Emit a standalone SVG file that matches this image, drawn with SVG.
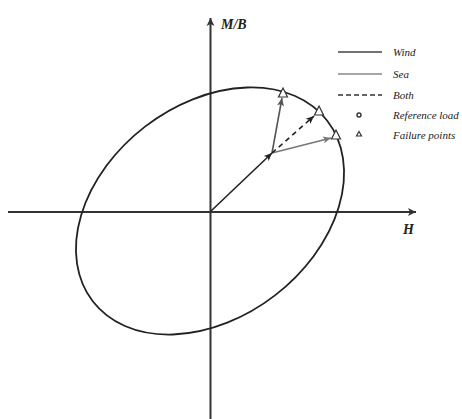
<svg xmlns="http://www.w3.org/2000/svg" width="462" height="419" viewBox="0 0 462 419">
<style>
.lbl{font-family:"Liberation Serif","Times New Roman",serif;font-style:italic;font-size:11px;fill:#222}
.ax{font-family:"Liberation Serif","Times New Roman",serif;font-style:italic;font-weight:bold;font-size:14px;fill:#222}
.axis{stroke:#333;stroke-width:2;fill:none}
.tri{fill:#fff;stroke:#333;stroke-width:1.2}
</style>
<defs>
<marker id="ahAx" markerWidth="10" markerHeight="10" refX="9" refY="5" orient="auto" markerUnits="userSpaceOnUse">
<path d="M1,1 L9,5 L1,9 L3,5 Z" fill="#333"/>
</marker>
<marker id="ahK" markerWidth="10" markerHeight="10" refX="9" refY="5" orient="auto" markerUnits="userSpaceOnUse">
<path d="M1,1.5 L9,5 L1,8.5 L3,5 Z" fill="#222"/>
</marker>
<marker id="ahW" markerWidth="10" markerHeight="10" refX="9" refY="5" orient="auto" markerUnits="userSpaceOnUse">
<path d="M1,1.5 L9,5 L1,8.5 L3,5 Z" fill="#555"/>
</marker>
<marker id="ahS" markerWidth="10" markerHeight="10" refX="9" refY="5" orient="auto" markerUnits="userSpaceOnUse">
<path d="M1,1.5 L9,5 L1,8.5 L3,5 Z" fill="#777"/>
</marker>
</defs>
<g id="axes">
<line class="axis" x1="210.5" y1="419" x2="210.5" y2="18" marker-end="url(#ahAx)"/>
<line class="axis" x1="8" y1="212" x2="416" y2="212" marker-end="url(#ahAx)"/>
<text class="ax" x="221" y="29">M/B</text>
<text class="ax" x="403" y="234">H</text>
</g>
<g id="ellipse">
<ellipse cx="210" cy="211" rx="148" ry="106.5" transform="rotate(-37.6 210 211)" fill="none" stroke="#222" stroke-width="1.8"/>
</g>
<g id="connectors">
<line x1="211" y1="211" x2="272" y2="153" stroke="#222" stroke-width="1.6" marker-end="url(#ahK)"/>
<line x1="272" y1="153" x2="282" y2="98" stroke="#555" stroke-width="1.6" marker-end="url(#ahW)"/>
<line x1="272" y1="153" x2="331" y2="138" stroke="#777" stroke-width="1.6" marker-end="url(#ahS)"/>
<line x1="272" y1="153" x2="314" y2="116" stroke="#222" stroke-width="1.6" stroke-dasharray="5,4" marker-end="url(#ahK)"/>
</g>
<g id="failure-points">
<path class="tri" d="M283,88 L287.5,97 L278.5,97 Z"/>
<path class="tri" d="M319,106 L323.5,115 L314.5,115 Z"/>
<path class="tri" d="M336,130 L340.5,139 L331.5,139 Z"/>
</g>
<g id="legend">
<line x1="338" y1="52" x2="382" y2="52" stroke="#444" stroke-width="1.6"/>
<text class="lbl" x="393" y="56">Wind</text>
<line x1="338" y1="74" x2="382" y2="74" stroke="#888" stroke-width="1.6"/>
<text class="lbl" x="393" y="78">Sea</text>
<line x1="338" y1="95" x2="382" y2="95" stroke="#333" stroke-width="1.6" stroke-dasharray="5,3"/>
<text class="lbl" x="393" y="99">Both</text>
<circle cx="359" cy="115" r="2" fill="none" stroke="#333" stroke-width="1.4"/>
<text class="lbl" x="393" y="119">Reference load</text>
<path d="M359,131.5 L361.5,136 L356.5,136 Z" fill="none" stroke="#333" stroke-width="1.2"/>
<text class="lbl" x="393" y="139">Failure points</text>
</g>
</svg>
